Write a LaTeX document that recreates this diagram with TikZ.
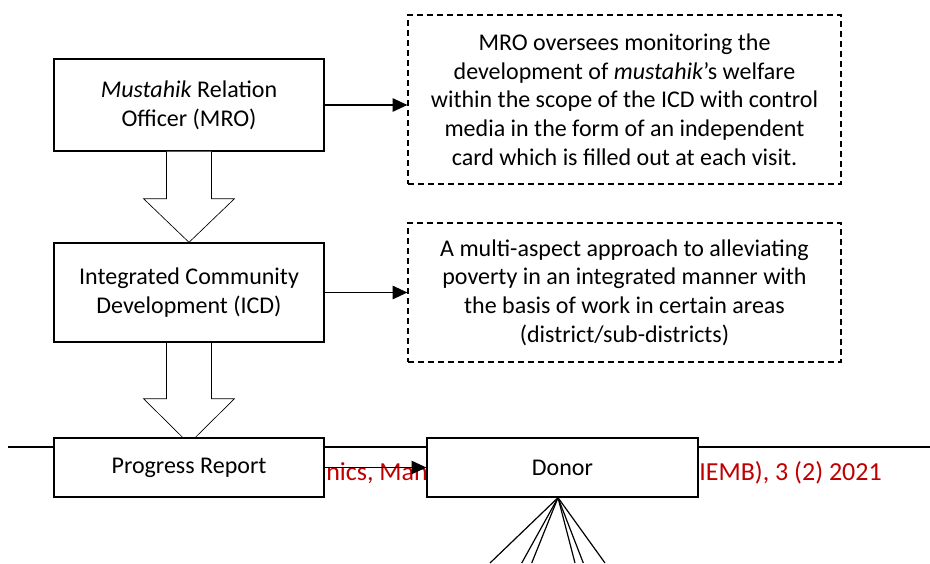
\documentclass[tikz,border=0pt]{standalone}
\usepackage{fontspec}
\setmainfont{Carlito}
\usetikzlibrary{arrows.meta,calc,backgrounds}
\definecolor{hdrred}{RGB}{192,0,0}
\begin{document}
\begin{tikzpicture}[x=0.75pt,y=-0.75pt,
  solidbox/.style={draw,line width=1pt,fill=white,align=center,font=\fontsize{18}{21.75}\selectfont,inner sep=0pt},
  dashbox/.style={draw,line width=0.9pt,dash pattern=on 4.5pt off 3pt,fill=white,align=center,font=\fontsize{18}{21.5}\selectfont,inner sep=0pt},
  link/.style={line width=1pt,-{Triangle[length=11pt,width=10pt]}},
  blockarrow/.style={draw,fill=white,line width=0.5pt},
  header/.style={text=hdrred,font=\fontsize{19.5}{23}\selectfont,inner sep=0pt},
  pageline/.style={draw,line width=0.9pt}
]
\useasboundingbox (0,0) rectangle (930,563);

% boxes
\node[solidbox,minimum width=202.5pt,minimum height=69pt] (mro) at (189,105)
  {\textit{Mustahik} Relation\\Officer (MRO)};
\node[solidbox,minimum width=202.5pt,minimum height=74.25pt] (icd) at (189,292.5)
  {Integrated Community\\Development (ICD)};
\node[solidbox,minimum width=202.5pt,minimum height=44.25pt] (prog) at (189,467.5)
  {Progress Report};
\node[solidbox,minimum width=203.25pt,minimum height=44.25pt] (donor) at (562.5,467.5)
  {Donor};
\node[dashbox,minimum width=324.75pt,minimum height=126.75pt] (note1) at (624.5,99.5)
  {MRO oversees monitoring the\\development of \textit{mustahik}’s welfare\\within the scope of the ICD with control\\media in the form of an independent\\card which is filled out at each visit.};
\node[dashbox,minimum width=324.75pt,minimum height=104.25pt] (note2) at (624.5,292.5)
  {A multi-aspect approach to alleviating\\poverty in an integrated manner with\\the basis of work in certain areas\\(district/sub-districts)};

% background items
\begin{scope}[on background layer]
  \coordinate (pl1) at (8,447);
  \coordinate (pl2) at (930,447);
  \draw[pageline] (pl1) -- (pl2);
  \node[header,anchor=base west] (hdrA) at (326,480) {nics, Management};
  \node[header,anchor=base east] (hdrB) at (882,480) {(JIEMB), 3 (2) 2021};
  % block arrow ICD -> Progress Report (tip hidden under the box)
  \draw[blockarrow] ($(icd.south)+(-22.5,0)$) -- ++(0,56) -- ++(-23,0)
    -- ($(icd.south)+(0,101)$) -- ($(icd.south)+(45.5,56)$) -- ++(-23,0)
    -- ($(icd.south)+(22.5,0)$);
\end{scope}

% block arrow MRO -> ICD
\draw[blockarrow] ($(mro.south)+(-22.5,0)$) -- ++(0,47) -- ++(-23,0)
  -- (icd.north) -- ($(mro.south)+(45.5,47)$) -- ++(-23,0)
  -- ($(mro.south)+(22.5,0)$);

% links
\draw[link] (mro.east) -- (mro.east -| note1.west);
\draw[link] (icd.east) -- (icd.east -| note2.west);
\draw[link] (prog.east) -- (donor.west);

% fan of lines below donor
\coordinate (apex) at ($(donor.south)+(-4.5,0)$);
\coordinate (f1) at (490,563);
\coordinate (f2) at (521.7,563);
\coordinate (f3) at (531.7,563);
\coordinate (f4) at (575,563);
\coordinate (f5) at (583.3,563);
\coordinate (f6) at (605,563);
\foreach \f in {f1,f2,f3,f4,f5,f6} \draw[line width=0.9pt] (apex) -- (\f);
\end{tikzpicture}
\end{document}
